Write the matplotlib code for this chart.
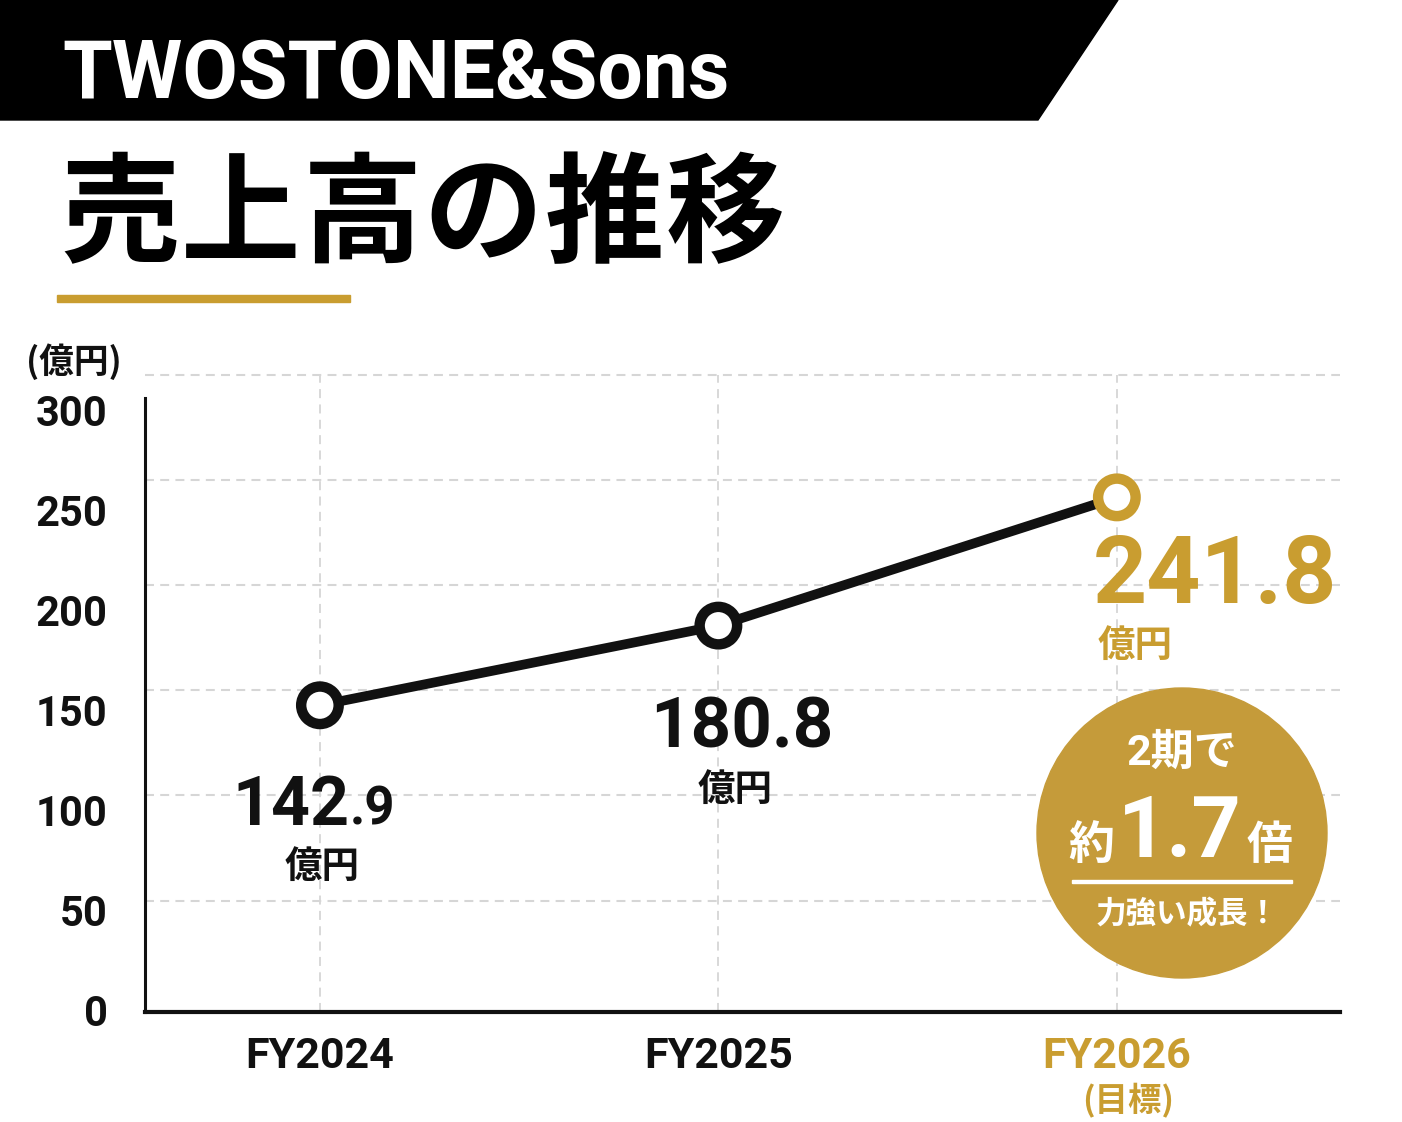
import matplotlib
matplotlib.use("Agg")
import matplotlib.pyplot as plt
from matplotlib.patches import Polygon, Rectangle, Ellipse

# ---------------- data ----------------
categories = ["FY2024", "FY2025", "FY2026"]
sales = [142.9, 180.8, 241.8]          # 売上高（億円）
y_ticks = [0, 50, 100, 150, 200, 250, 300]
unit = "億円"
title = "売上高の推移"

GOLD = "#C99D30"
BADGE = "#C59B3A"
BLACK = "#111111"
GRID = "#D6D6D6"
NUM = ["Roboto", "Noto Sans CJK JP"]
CJK = ["Noto Sans CJK JP", "DejaVu Sans"]

W, H = 1402, 1122
fig = plt.figure(figsize=(W / 100, H / 100), dpi=100)
fig.patch.set_facecolor("white")

def fx(px):
    return px / W

def fy(py):
    return 1 - py / H

# ---------------- header ----------------
fig.add_artist(Polygon([(0, 1), (fx(1118), 1), (fx(1038), fy(120)), (0, fy(120))],
                       closed=True, transform=fig.transFigure, color="black", zorder=1))
fig.text(fx(62), fy(98), "TWOSTONE&Sons", family=NUM, weight="bold", fontsize=58,
         color="white", ha="left", va="baseline")
for i, ch in enumerate(title):
    fig.text(fx(120 + 121 * i), fy(218), ch, family=CJK, weight="bold", fontsize=86,
             color="black", ha="center", va="center")
fig.add_artist(Rectangle((fx(57), fy(302)), fx(350) - fx(57), 7 / H,
                         transform=fig.transFigure, color=GOLD, zorder=1))
fig.text(fx(26), fy(362), "(億円)", family=CJK, weight="bold", fontsize=25,
         color=BLACK, ha="left", va="center")

# ---------------- axes ----------------
ax = fig.add_axes([fx(145), fy(1012), fx(1340) - fx(145), (1012 - 354) / H])
ax.set_facecolor("none")
ax.set_ylim(-3, 310)
ax.set_xlim(-0.439, 2.56)
xs = list(range(len(categories)))

for s in ["top", "right"]:
    ax.spines[s].set_visible(False)
ax.spines["left"].set_linewidth(2.2)
ax.spines["left"].set_color(BLACK)
ax.spines["left"].set_bounds(-3, 289)
ax.spines["bottom"].set_linewidth(3)
ax.spines["bottom"].set_color(BLACK)

# grid lines
for v in y_ticks[1:]:
    ax.axhline(v, color=GRID, lw=1.5, ls=(0, (4.3, 3.0)), zorder=0)
ax.vlines(xs, -3, 300, color=GRID, lw=1.3, ls=(0, (5, 3.5)), zorder=0)

# line + markers
ax.plot(xs, sales, color=BLACK, lw=7, zorder=3, solid_capstyle="butt")
ax.scatter(xs, sales, s=27 ** 2, facecolors="white",
           edgecolors=[BLACK, BLACK, GOLD], linewidths=7.5, zorder=4)

# y tick labels (placed on their own scale, as in the reference)
ax.tick_params(left=False, labelleft=False)
sec = ax.secondary_yaxis("left", functions=(lambda y: 1.051 * y + 2.153,
                                            lambda v: (v - 2.153) / 1.051))
sec.set_yticks(y_ticks)
sec.set_yticklabels([str(v) for v in y_ticks], family=NUM, weight="bold",
                    fontsize=30, color=BLACK)
sec.tick_params(length=0, pad=27)
sec.spines["left"].set_visible(False)

# x tick labels
ax.set_xticks(xs)
ax.set_xticklabels(categories, family=NUM, weight="bold", fontsize=31, color=BLACK)
ax.tick_params(axis="x", length=0, pad=17)
ax.get_xticklabels()[-1].set_color(GOLD)
ax.text(2.028, -0.134, "(目標)", transform=ax.get_xaxis_transform(), family=CJK,
        weight="bold", fontsize=24, color=GOLD, ha="center", va="center")

# ---------------- value labels ----------------
def dx(px):
    return (px - 320) / 398.5

def dy(py):
    return (1012 - py) / 2.102 - 3

v0 = f"{sales[0]:.1f}"
ip, dp = v0.split(".")
ax.text(dx(350), dy(825), ip, family=NUM, weight="bold", fontsize=49, color=BLACK,
        ha="right", va="baseline", zorder=5)
ax.text(dx(350), dy(825), "." + dp, family=NUM, weight="bold", fontsize=38, color=BLACK,
        ha="left", va="baseline", zorder=5)
ax.text(dx(322), dy(866), unit, family=CJK, weight="bold", fontsize=27, color=BLACK,
        ha="center", va="center", zorder=5)

ax.text(dx(742), dy(748), f"{sales[1]:.1f}", family=NUM, weight="bold", fontsize=51,
        color=BLACK, ha="center", va="baseline", zorder=5)
ax.text(dx(735), dy(789), unit, family=CJK, weight="bold", fontsize=27, color=BLACK,
        ha="center", va="center", zorder=5)

ax.text(dx(1215), dy(603), f"{sales[2]:.1f}", family=NUM, weight="bold", fontsize=68,
        color=GOLD, ha="center", va="baseline", zorder=5)
ax.text(dx(1098), dy(645), unit, family=CJK, weight="bold", fontsize=27, color=GOLD,
        ha="left", va="center", zorder=5)

# ---------------- badge ----------------
fig.add_artist(Ellipse((fx(1182), fy(833)), 290 / W, 290 / H, transform=fig.transFigure,
                       color=BADGE, zorder=2))
growth = sales[2] / sales[0]
fig.text(fx(1182), fy(753), "2期で", family=NUM, weight="bold", fontsize=31,
         color="white", ha="center", va="center", zorder=6)
fig.text(fx(1091), fy(846), "約", family=CJK, weight="bold", fontsize=33,
         color="white", ha="center", va="center", zorder=6)
fig.text(fx(1180), fy(857), f"{growth:.1f}", family=NUM, weight="bold", fontsize=62,
         color="white", ha="center", va="baseline", zorder=6)
fig.text(fx(1269), fy(846), "倍", family=CJK, weight="bold", fontsize=33,
         color="white", ha="center", va="center", zorder=6)
fig.add_artist(Rectangle((fx(1072), fy(883)), fx(1292) - fx(1072), 3 / H,
                         transform=fig.transFigure, color="white", zorder=6))
fig.text(fx(1187), fy(914), "力強い成長！", family=CJK, weight="bold", fontsize=22,
         color="white", ha="center", va="center", zorder=6)

fig.savefig("out.png", dpi=100, facecolor="white")
